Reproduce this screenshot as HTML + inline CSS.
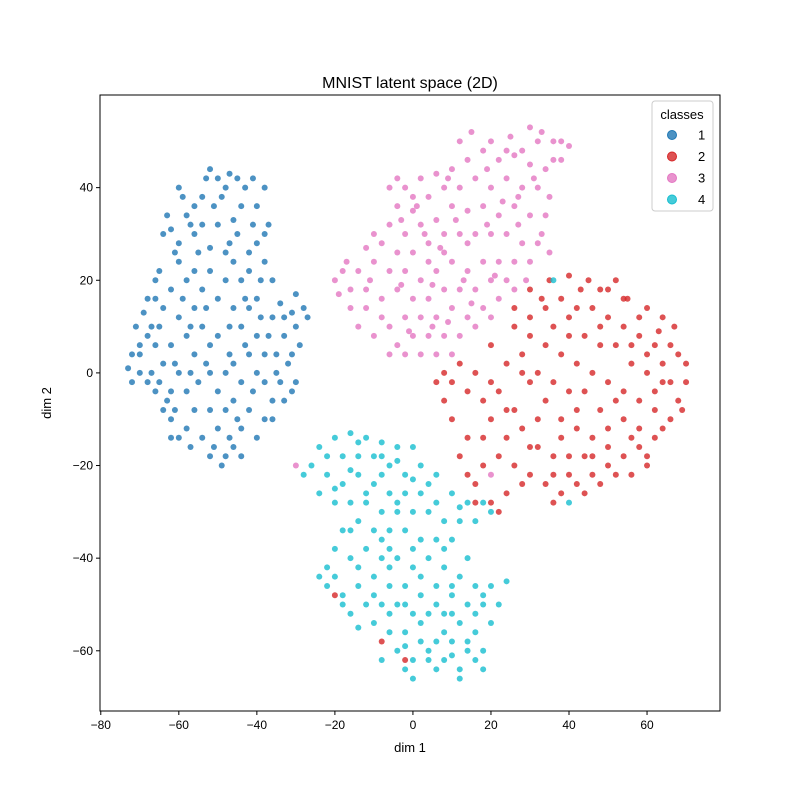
<!DOCTYPE html>
<html><head><meta charset="utf-8"><style>
body{margin:0;background:#fff}
svg{display:block;font-family:"Liberation Sans","DejaVu Sans",sans-serif}
</style></head><body>
<svg id="chart" width="799" height="799" viewBox="0 0 799 799">
<rect width="799" height="799" fill="#fff"/>
<text x="410" y="88" font-size="16" text-anchor="middle">MNIST latent space (2D)</text>
<g id="points"></g>
<rect x="100" y="95" width="620" height="616" fill="none" stroke="#000" stroke-width="1"/>
<g id="xticks"></g>
<g id="yticks"></g>
<text x="410" y="752" font-size="13" text-anchor="middle">dim 1</text>
<text x="51" y="403" font-size="13" text-anchor="middle" transform="rotate(-90 51 403)">dim 2</text>
<g id="legend">
<rect x="652" y="101" width="61" height="110" rx="3" fill="#fff" fill-opacity="0.8" stroke="#ccc"/>
<text x="682" y="119" font-size="13" text-anchor="middle">classes</text>
</g>
</svg>
<script>
const xTicks=[-80,-60,-40,-20,0,20,40,60];
const yTicks=[-60,-40,-20,0,20,40];
const classLabels=["1","2","3","4"];
const classColors=["#1f77b4","#d62728","#e377c2","#17becf"];
const class1=[[-52,44],[-50,42],[-47,43],[-45,42],[-54,38],[-56,36],[-49,38],[-46,33],[-60,40],[-58,34],[-62,31],[-64,30],[-60,28],[-56,30],[-52,27],[-48,26],[-45,30],[-41,42],[-38,40],[-40,36],[-37,32],[-40,28],[-42,22],[-38,24],[-36,20],[-40,16],[-34,15],[-31,13],[-28,14],[-30,10],[-33,8],[-29,6],[-35,4],[-32,2],[-30,-2],[-34,-2],[-36,-6],[-33,-6],[-38,-10],[-42,-8],[-46,-6],[-44,-12],[-47,-14],[-48,-18],[-46,-16],[-50,-12],[-54,-14],[-52,-18],[-58,-12],[-60,-14],[-62,-10],[-64,-8],[-66,-4],[-68,-2],[-70,0],[-73,1],[-72,4],[-70,6],[-68,8],[-71,10],[-69,13],[-66,16],[-62,18],[-64,14],[-67,10],[-60,12],[-58,8],[-62,6],[-64,2],[-60,0],[-58,-4],[-55,-2],[-52,0],[-50,-4],[-48,0],[-46,2],[-44,-2],[-42,4],[-40,8],[-44,10],[-46,14],[-50,16],[-54,18],[-56,22],[-52,22],[-48,20],[-44,20],[-42,14],[-54,10],[-52,6],[-56,4],[-50,8],[-38,4],[-38,-2],[-40,0],[-58,20],[-60,24],[-66,20],[-56,14],[-62,-4],[-56,-8],[-52,-8],[-48,-8],[-40,-14],[-44,36],[-50,32],[-54,32],[-63,34],[-59,38],[-48,40],[-36,12],[-30,17],[-37,8],[-72,-2],[-66,6],[-62,-14],[-44,-18],[-42,26],[-38,30],[-55,26],[-46,24],
[-53,42],[-57,32],[-61,26],[-65,22],[-68,16],[-70,4],[-67,0],[-65,-2],[-61,-8],[-57,-16],[-51,-16],[-45,-10],[-41,-4],[-35,0],[-31,4],[-27,12],[-33,12],[-39,12],[-43,6],[-47,4],[-53,2],[-57,0],[-61,2],[-65,10],[-59,16],[-53,14],[-47,10],[-43,16],[-39,20],[-41,32],[-43,40],[-51,36],[-47,28],[-57,10],[-63,-6],[-49,-20],[-36,-10],[-31,-4]];
const class2=[[30,18],[35,20],[40,21],[45,20],[50,18],[55,16],[60,14],[64,12],[67,10],[66,6],[70,2],[70,-2],[68,-6],[66,-10],[62,-14],[58,-16],[54,-18],[50,-20],[46,-22],[42,-24],[38,-26],[34,-24],[30,-22],[26,-20],[22,-18],[18,-20],[16,-24],[20,-28],[22,-30],[14,-22],[12,-18],[10,-10],[8,-6],[6,-2],[8,0],[12,2],[14,-4],[18,-6],[20,-10],[22,-4],[26,-8],[24,2],[28,4],[26,10],[30,12],[34,14],[38,16],[42,14],[46,14],[50,12],[54,10],[58,8],[62,6],[64,2],[62,-4],[58,-6],[54,-4],[50,-2],[46,0],[42,2],[38,4],[34,6],[30,-2],[34,-6],[38,-10],[42,-12],[46,-14],[50,-12],[54,-10],[58,-12],[62,-8],[56,2],[52,6],[48,6],[44,8],[40,8],[36,10],[32,0],[28,-12],[32,-16],[36,-18],[40,-18],[44,-18],[48,-8],[44,-4],[40,-4],[36,-2],[60,0],[66,-2],[56,-22],[40,-22],[30,-16],[24,-14],[18,-14],[54,16],[60,-18],[48,18],[26,14],[20,-2],[-20,-48],[-8,-58],[-2,-62],
[33,16],[43,18],[52,20],[58,12],[63,9],[68,4],[69,-8],[64,-12],[60,-20],[52,-22],[48,-24],[44,-26],[36,-28],[28,-24],[24,-26],[16,-28],[14,-14],[10,-2],[16,0],[20,6],[30,8],[40,12],[48,10],[56,6],[60,4],[52,-6],[56,-14],[46,-18],[38,-14],[32,-10],[24,-8],[28,0],[42,-8],[36,-22],[50,-16],[64,-2]];
const class3=[[15,52],[20,50],[25,51],[30,53],[33,52],[36,50],[40,49],[38,46],[34,44],[30,45],[26,47],[22,46],[18,48],[14,46],[10,44],[6,43],[2,42],[-2,40],[-4,36],[0,35],[4,38],[8,40],[12,40],[16,42],[20,40],[24,42],[28,40],[32,40],[35,38],[34,34],[30,34],[26,36],[22,34],[18,36],[14,35],[10,36],[6,33],[2,32],[-2,30],[-6,32],[-8,28],[-4,26],[0,26],[4,28],[8,30],[12,30],[16,30],[20,30],[24,30],[28,28],[32,28],[35,26],[30,24],[26,24],[22,24],[18,24],[14,22],[10,24],[6,22],[2,20],[-2,22],[-6,22],[-10,24],[-14,22],[-18,22],[-20,20],[-16,18],[-12,18],[-8,16],[-4,18],[0,16],[4,16],[8,18],[12,18],[16,18],[20,20],[24,20],[18,14],[14,12],[10,14],[6,12],[2,12],[-2,12],[-6,10],[-4,6],[0,8],[4,8],[8,8],[12,8],[-2,4],[2,4],[6,4],[10,4],[-12,14],[-16,14],[-10,8],[22,16],[20,12],[26,18],[14,28],[-6,40],[-4,42],[-10,30],[28,48],[38,50],[16,10],[8,26],[4,24],[-30,-20],[20,-22],
[12,50],[24,48],[32,50],[36,46],[31,42],[27,38],[19,44],[9,42],[0,38],[-3,33],[3,30],[11,33],[19,32],[27,32],[33,30],[29,20],[21,21],[13,20],[5,19],[-3,19],[-11,20],[-17,24],[-19,17],[-14,10],[-8,12],[-6,4],[-1,9],[5,10],[9,11],[15,15],[7,27],[-12,27],[1,36],[23,37]];
const class4=[[-20,-14],[-16,-13],[-12,-14],[-8,-15],[-4,-16],[0,-16],[2,-20],[-2,-22],[-6,-20],[-10,-18],[-14,-18],[-18,-18],[-22,-18],[-26,-20],[-28,-22],[-22,-22],[-18,-24],[-14,-22],[-10,-24],[-6,-26],[-2,-26],[2,-26],[6,-28],[10,-26],[14,-28],[18,-28],[16,-32],[12,-32],[8,-32],[4,-30],[0,-30],[-4,-30],[-8,-30],[-12,-28],[-16,-28],[-20,-28],[-14,-32],[-10,-34],[-6,-34],[-2,-34],[2,-36],[6,-36],[10,-36],[-20,-38],[-16,-40],[-12,-38],[-8,-40],[-4,-40],[0,-42],[4,-40],[8,-42],[12,-44],[16,-46],[20,-46],[24,-45],[-20,-44],[-18,-48],[-14,-46],[-10,-44],[-6,-46],[-2,-46],[2,-48],[6,-46],[10,-48],[14,-50],[18,-50],[20,-54],[16,-56],[12,-54],[8,-52],[4,-52],[0,-52],[-4,-50],[-8,-50],[-12,-50],[-16,-52],[-10,-54],[-6,-56],[-2,-56],[2,-58],[6,-58],[10,-58],[14,-60],[18,-60],[-4,-60],[0,-62],[4,-62],[8,-62],[12,-64],[-2,-64],[12,-66],[16,-62],[-22,-42],[-24,-44],[-18,-34],[-6,-38],[14,-40],[-8,-18],[6,-22],[-24,-26],[36,20],[40,-28],
[-24,-16],[-14,-15],[-4,-19],[0,-23],[-8,-22],[-16,-21],[-20,-25],[-12,-26],[-4,-28],[4,-24],[12,-29],[20,-30],[-16,-34],[-8,-36],[0,-38],[8,-38],[-22,-46],[-14,-42],[-6,-42],[2,-44],[10,-46],[18,-48],[22,-50],[16,-52],[6,-50],[-2,-50],[-10,-48],[-18,-50],[-14,-55],[-6,-52],[2,-54],[10,-52],[8,-56],[14,-58],[-2,-59],[4,-60],[10,-61],[18,-64],[6,-64],[0,-66],[-8,-62]];
const allClasses=[class1,class2,class3,class4];

const NS="http://www.w3.org/2000/svg";
const L=100,R=720,T=95,B=711;
const xMin=-80.2,xMax=78.7,yMin=-73,yMax=60;
function sx(v){return L+(v-xMin)/(xMax-xMin)*(R-L);}
function sy(v){return B-(v-yMin)/(yMax-yMin)*(B-T);}
function mk(tag,attrs,parent){const e=document.createElementNS(NS,tag);for(const k in attrs)e.setAttribute(k,attrs[k]);parent.appendChild(e);return e;}

const pg=document.getElementById('points');
allClasses.forEach((pts,ci)=>{
  pts.forEach(p=>{
    const c=mk('circle',{cx:sx(p[0]),cy:sy(p[1]),r:3,fill:classColors[ci],'fill-opacity':0.8},pg);
    
    
  });
});

const xg=document.getElementById('xticks');
xTicks.forEach(t=>{
  const x=sx(t);
  mk('line',{x1:x,x2:x,y1:B,y2:B+4,stroke:'#000'},xg);
  const tx=mk('text',{x:x,y:B+18,'font-size':12,'text-anchor':'middle'},xg);
  tx.textContent=t<0?'\u2212'+(-t):t;
  
  
});
const yg=document.getElementById('yticks');
yTicks.forEach(t=>{
  const y=sy(t);
  mk('line',{x1:L-4,x2:L,y1:y,y2:y,stroke:'#000'},yg);
  const tx=mk('text',{x:L-7,y:y+4,'font-size':12,'text-anchor':'end'},yg);
  tx.textContent=t<0?'\u2212'+(-t):t;
  
  
});
const lg=document.getElementById('legend');
classLabels.forEach((lab,i)=>{
  const y=135+i*21.5;
  const g=mk('g',{},lg);
  
  
  mk('circle',{cx:672,cy:y,r:4.5,fill:classColors[i],'fill-opacity':0.8,stroke:classColors[i]},g);
  const t=mk('text',{x:698,y:y+4.5,'font-size':13},g);
  t.textContent=lab;
});
</script>
</body></html>
